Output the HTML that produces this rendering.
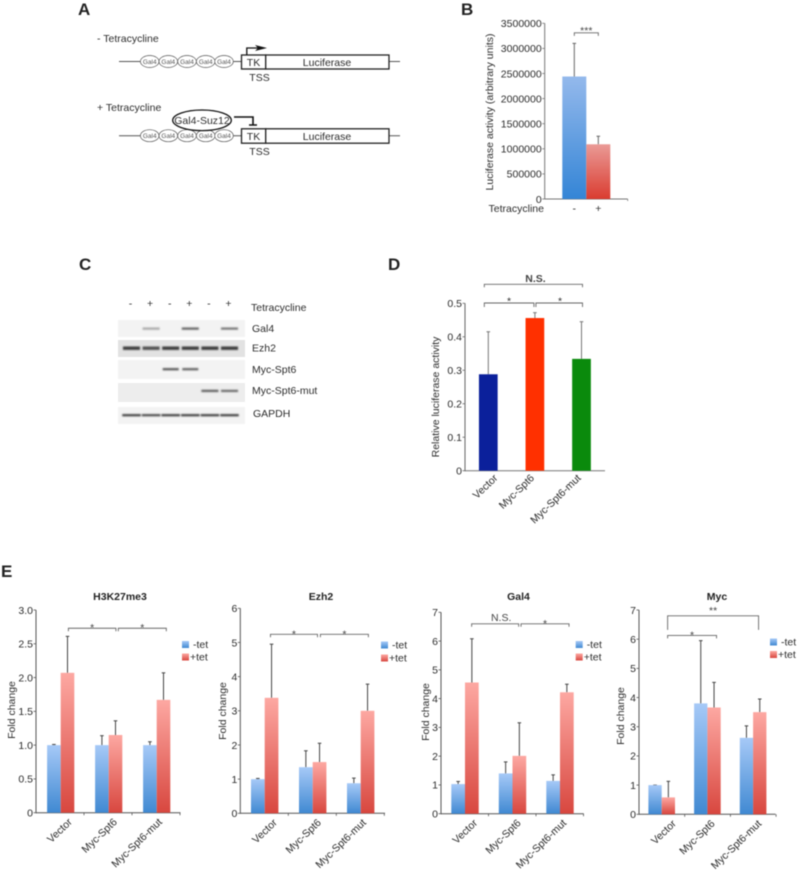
<!DOCTYPE html>
<html lang="en">
<head>
<meta charset="utf-8">
<title>Luciferase reporter and ChIP figure</title>
<style>
html,body{margin:0;padding:0;background:#fff}
#figure{display:block;width:800px;height:871px;filter:blur(0.4px)}
text{font-family:"Liberation Sans",sans-serif;fill:#2c2c2c;font-size:10.5px}
.panel{font-size:17px;font-weight:bold;fill:#222}
.diag{font-size:10.5px;fill:#2c2c2c}
.gal{font-size:6.5px;fill:#555;text-anchor:middle}
.ln{stroke:#555;stroke-width:1;fill:none}
.box{stroke:#222;stroke-width:1.3;fill:#fff}
</style>
</head>
<body>
<svg id="figure" xmlns="http://www.w3.org/2000/svg" width="800" height="871" viewBox="0 0 800 871">
<defs>
<linearGradient id="gBlue" x1="0" y1="0" x2="0" y2="1"><stop offset="0" stop-color="#a6c9f7"/><stop offset="1" stop-color="#4089d2"/></linearGradient>
<linearGradient id="gRed" x1="0" y1="0" x2="0" y2="1"><stop offset="0" stop-color="#fda8a2"/><stop offset="1" stop-color="#d8473f"/></linearGradient>
<linearGradient id="gBlueB" x1="0" y1="0" x2="0" y2="1"><stop offset="0" stop-color="#94b9ec"/><stop offset="1" stop-color="#3485d6"/></linearGradient>
<linearGradient id="gRedB" x1="0" y1="0" x2="0" y2="1"><stop offset="0" stop-color="#ea9a96"/><stop offset="1" stop-color="#da3c30"/></linearGradient>
<filter id="bandBlur" x="-20%" y="-200%" width="140%" height="500%"><feGaussianBlur stdDeviation="0.7"/></filter>
</defs>

<text class="panel" x="78" y="15">A</text>
<text class="panel" x="461" y="15">B</text>
<text class="panel" x="79" y="270">C</text>
<text class="panel" x="388" y="270">D</text>
<text class="panel" x="1" y="577">E</text>

<g>
<text class="diag" x="97" y="42">- Tetracycline</text>
<line class="ln" x1="119" y1="61.5" x2="400" y2="61.5"/>
<g fill="#fff" stroke="#555" stroke-width="0.7">
<ellipse cx="149.7" cy="61.5" rx="9.3" ry="6"/><ellipse cx="168.3" cy="61.5" rx="9.3" ry="6"/><ellipse cx="187" cy="61.5" rx="9.3" ry="6"/><ellipse cx="205.7" cy="61.5" rx="9.3" ry="6"/><ellipse cx="224" cy="61.5" rx="9.3" ry="6"/>
</g>
<text class="gal" x="149.7" y="64">Gal4</text>
<text class="gal" x="168.3" y="64">Gal4</text>
<text class="gal" x="187" y="64">Gal4</text>
<text class="gal" x="205.7" y="64">Gal4</text>
<text class="gal" x="224" y="64">Gal4</text>
<rect class="box" x="241.5" y="55" width="24.2" height="14"/>
<rect class="box" x="265.7" y="55" width="123.3" height="14"/>
<text class="diag" x="253.5" y="66" text-anchor="middle">TK</text>
<text class="diag" x="327" y="66" text-anchor="middle">Luciferase</text>
<text class="diag" x="259.5" y="81" text-anchor="middle">TSS</text>
<path d="M246.8 55V48H258" fill="none" stroke="#111" stroke-width="1.3"/>
<path d="M255 45L267 48L255 51L258 48Z" fill="#111"/>
</g>

<g>
<text class="diag" x="97" y="111">+ Tetracycline</text>
<line class="ln" x1="119" y1="135.7" x2="400" y2="135.7"/>
<g fill="#fff" stroke="#555" stroke-width="0.7">
<ellipse cx="149.7" cy="135.7" rx="9.3" ry="6"/><ellipse cx="168.3" cy="135.7" rx="9.3" ry="6"/><ellipse cx="187" cy="135.7" rx="9.3" ry="6"/><ellipse cx="205.7" cy="135.7" rx="9.3" ry="6"/><ellipse cx="224" cy="135.7" rx="9.3" ry="6"/>
</g>
<text class="gal" x="149.7" y="138.2">Gal4</text>
<text class="gal" x="168.3" y="138.2">Gal4</text>
<text class="gal" x="187" y="138.2">Gal4</text>
<text class="gal" x="205.7" y="138.2">Gal4</text>
<text class="gal" x="224" y="138.2">Gal4</text>
<rect class="box" x="241.5" y="128.8" width="24.2" height="14.4"/>
<rect class="box" x="265.7" y="128.8" width="123.3" height="14.4"/>
<text class="diag" x="253.5" y="140" text-anchor="middle">TK</text>
<text class="diag" x="327" y="140" text-anchor="middle">Luciferase</text>
<text class="diag" x="259.5" y="155" text-anchor="middle">TSS</text>
<ellipse cx="202" cy="120.3" rx="29.3" ry="10.3" fill="#fff" stroke="#111" stroke-width="1.3"/>
<text class="diag" x="202" y="124" text-anchor="middle">Gal4-Suz12</text>
<path d="M234 117H253V125M249 125H257" fill="none" stroke="#111" stroke-width="1.6"/>
</g>

<g id="blot"></g>
<g id="chartB"></g>
<g id="chartD"></g>
<g id="chartE1"></g>
<g id="chartE2"></g>
<g id="chartE3"></g>
<g id="chartE4"></g>
</svg>

<script>
// ---- data ----
const groupLabels = ['Vector', 'Myc-Spt6', 'Myc-Spt6-mut'];

const bCategories = ['-', '+'];
const bValues = [2440000, 1090000];
const bErrorTops = [3100000, 1250000];
const bTicks = ['0', '500000', '1000000', '1500000', '2000000', '2500000', '3000000', '3500000'];

const dValues = [0.288, 0.456, 0.334];
const dErrorTops = [0.415, 0.472, 0.445];
const dTicks = ['0', '0.1', '0.2', '0.3', '0.4', '0.5'];

const h3Minus = [1, 1, 1];
const h3Plus = [2.07, 1.15, 1.67];
const h3MinusTops = [1.01, 1.14, 1.05];
const h3PlusTops = [2.61, 1.36, 2.07];
const h3Ticks = ['0', '0.5', '1.0', '1.5', '2.0', '2.5', '3.0'];

const ezh2Minus = [1, 1.35, 0.88];
const ezh2Plus = [3.38, 1.5, 3.0];
const ezh2MinusTops = [1.02, 1.83, 1.03];
const ezh2PlusTops = [4.95, 2.05, 3.78];
const ezh2Ticks = ['0', '1', '2', '3', '4', '5', '6'];

const gal4Minus = [1.03, 1.4, 1.14];
const gal4Plus = [4.56, 2.01, 4.22];
const gal4MinusTops = [1.12, 1.8, 1.35];
const gal4PlusTops = [6.08, 3.16, 4.5];
const gal4Ticks = ['0', '1', '2', '3', '4', '5', '6', '7'];

const mycMinus = [1, 3.8, 2.62];
const mycPlus = [0.58, 3.66, 3.5];
const mycMinusTops = [1.0, 5.95, 3.03];
const mycPlusTops = [1.13, 4.52, 3.95];
const mycTicks = ['0', '1', '2', '3', '4', '5', '6', '7'];

const blotProteins = ['Gal4', 'Ezh2', 'Myc-Spt6', 'Myc-Spt6-mut', 'GAPDH'];
const blotLanes = ['-', '+', '-', '+', '-', '+'];
const blotGal4 = [0, 0.35, 0, 0.7, 0, 0.6];
const blotEzh2 = [0.85, 0.75, 0.85, 0.85, 0.85, 0.85];
const blotMyc = [0, 0, 0.75, 0.7, 0, 0];
const blotMut = [0, 0, 0, 0, 0.7, 0.65];
const blotGapdh = [0.85, 0.8, 0.85, 0.85, 0.85, 0.85];

// ---- helpers ----
const NS = 'http://www.w3.org/2000/svg';
function mk(tag, attrs, parent, text) {
  const el = document.createElementNS(NS, tag);
  for (const k in attrs) el.setAttribute(k, attrs[k]);
  if (text !== undefined) el.textContent = text;
  parent.appendChild(el);
  return el;
}
function seg(parent, name, x1, y1, x2, y2, color, width) {
  const el = mk('line', {x1: x1, y1: y1, x2: x2, y2: y2, stroke: color, 'stroke-width': width}, parent);
  
  
  return el;
}
function label(parent, name, x, y, str, anchor, extra) {
  const el = mk('text', Object.assign({x: x, y: y, 'text-anchor': anchor}, extra || {}), parent, str);
  
  
  return el;
}
function linearY(y0, yTop, maxVal) {
  return function (v) { return y0 - (v / maxVal) * (y0 - yTop); };
}
function yAxis(g, ax, ticks, y, axisColor) {
  seg(g, 'y-axis', ax, y(0) + 0.5, ax, y(parseFloat(ticks[ticks.length - 1])), axisColor, 1);
  ticks.forEach(function (t) {
    const v = parseFloat(t);
    seg(g, 'y-tick', ax - 2.5, y(v), ax, y(v), axisColor, 0.8);
    label(g, 'y-tick-label', ax - 3, y(v) + 3.8, t, 'end');
  });
}
function bar(g, name, x, w, top, bottom, fill) {
  const r = mk('rect', {x: x, y: top, width: w, height: bottom - top, fill: fill}, g);
  
  
}
function errorBar(g, name, cx, yVal, yTop, color) {
  seg(g, name, cx, yVal, cx, yTop, color, 1);
  seg(g, name + '-cap', cx - 1.8, yTop, cx + 1.8, yTop, color, 1);
}
function bracket(g, name, x1, x2, y, leftDrop, rightDrop) {
  const p = mk('path', {d: 'M' + x1 + ' ' + (y + leftDrop) + 'V' + y + 'H' + x2 + 'V' + (y + rightDrop), fill: 'none', stroke: '#666', 'stroke-width': 0.9}, g);
  
  
}

// ---- grouped chart (panel E) ----
function groupedChart(cfg) {
  const g = document.getElementById(cfg.id);
  const y = linearY(cfg.y0, cfg.yTop, parseFloat(cfg.ticks[cfg.ticks.length - 1]));
  const cx = function (i) { return cfg.first + i * cfg.step; };
  const bw = cfg.bw;
  yAxis(g, cfg.ax, cfg.ticks, y, '#555');
  seg(g, 'x-axis', cfg.ax, cfg.y0, cfg.axEnd, cfg.y0, '#555', 1);
  for (let i = 0; i < 3; i++) {
    seg(g, 'x-tick', cfg.ax + (i + 1) * cfg.step, cfg.y0, cfg.ax + (i + 1) * cfg.step, cfg.y0 + 2.5, '#555', 0.8);
    errorBar(g, 'error-bar-minus-tet', cx(i) - bw / 2, y(cfg.minus[i]), y(cfg.minusTops[i]), '#444');
    errorBar(g, 'error-bar-plus-tet', cx(i) + bw / 2, y(cfg.plus[i]), y(cfg.plusTops[i]), '#444');
    bar(g, 'bar-minus-tet-' + groupLabels[i].toLowerCase(), cx(i) - bw, bw, y(cfg.minus[i]), cfg.y0, 'url(#gBlue)');
    bar(g, 'bar-plus-tet-' + groupLabels[i].toLowerCase(), cx(i), bw, y(cfg.plus[i]), cfg.y0, 'url(#gRed)');
    const lx = cx(i) + cfg.labelShift[i], ly = cfg.y0 + 10;
    label(g, 'x-tick-label', lx, ly, groupLabels[i], 'end', {transform: 'rotate(-44 ' + lx + ' ' + ly + ')', 'font-size': 10.5});
  }
  const yl = label(g, 'y-axis-title', 0, 0, 'Fold change', 'middle');
  yl.setAttribute('transform', 'translate(' + cfg.yTitleX + ' ' + cfg.yTitleY + ') rotate(-90)');
  const ti = label(g, 'chart-title', cfg.titleX, 600, cfg.title, 'middle', {'font-weight': 'bold'});
  ti.style.fill = '#222';
  // legend
  bar(g, 'legend-swatch-minus-tet', cfg.legX, 7, cfg.legY - 3.5, cfg.legY + 3.5, 'url(#gBlue)');
  bar(g, 'legend-swatch-plus-tet', cfg.legX, 7, cfg.legY + cfg.legGap - 3.5, cfg.legY + cfg.legGap + 3.5, 'url(#gRed)');
  label(g, 'legend-label-minus-tet', cfg.legX + 11, cfg.legY + 3.5, '-tet', 'start');
  label(g, 'legend-label-plus-tet', cfg.legX + 8, cfg.legY + cfg.legGap + 3.5, '+tet', 'start');
  cfg.brackets.forEach(function (b) {
    const by = y(b.level);
    bracket(g, 'significance-bracket', cx(b.from), cx(b.to), by, b.dropL, b.dropR);
    const sx = cx((b.from + b.to) / 2) + (b.shift || 0);
    const s = label(g, 'significance-mark', sx, b.mark === 'N.S.' ? by - 3 : by + (b.up || 0), b.mark, 'middle', b.mark === 'N.S.' ? {'font-size': 7.5} : {'font-size': 10});
    s.style.fill = '#444';
  });
}

groupedChart({id: 'chartE1', title: 'H3K27me3', titleX: 120, ticks: h3Ticks,
  minus: h3Minus, plus: h3Plus, minusTops: h3MinusTops, plusTops: h3PlusTops,
  ax: 36, axEnd: 180.5, y0: 812.7, yTop: 610, first: 60.7, step: 48, bw: 13.6,
  labelShift: [12, 9, 6],
  yTitleX: 15, yTitleY: 710, legX: 182, legY: 644.5, legGap: 12.5,
  brackets: [
    {from: 0.16, to: 1.15, level: 2.73, dropL: 3, dropR: 3, mark: '*', up: 3},
    {from: 1.2, to: 2.2, level: 2.73, dropL: 3, dropR: 3, mark: '*', up: 3}
  ]});
groupedChart({id: 'chartE2', title: 'Ezh2', titleX: 321, ticks: ezh2Ticks,
  minus: ezh2Minus, plus: ezh2Plus, minusTops: ezh2MinusTops, plusTops: ezh2PlusTops,
  ax: 240.3, axEnd: 385, y0: 813.3, yTop: 608.3, first: 264.7, step: 48, bw: 13.7,
  labelShift: [13, 9, 6],
  yTitleX: 226, yTitleY: 711, legX: 381, legY: 645, legGap: 13,
  brackets: [
    {from: 0.12, to: 1.1, level: 5.24, dropL: 3, dropR: 3, mark: '*', up: 3},
    {from: 1.16, to: 2.16, level: 5.24, dropL: 3, dropR: 3, mark: '*', up: 3}
  ]});
groupedChart({id: 'chartE3', title: 'Gal4', titleX: 518.5, ticks: gal4Ticks,
  minus: gal4Minus, plus: gal4Plus, minusTops: gal4MinusTops, plusTops: gal4PlusTops,
  ax: 441, axEnd: 583.7, y0: 813.7, yTop: 612.3, first: 465, step: 47.5, bw: 13.7,
  labelShift: [13, 9, 7],
  yTitleX: 429, yTitleY: 712, legX: 575.7, legY: 644.5, legGap: 12.5,
  brackets: [
    {from: 0.14, to: 1.13, level: 6.6, dropL: 3, dropR: 3, mark: 'N.S.', shift: 6},
    {from: 1.18, to: 2.19, level: 6.6, dropL: 3, dropR: 3, mark: '*', up: 3}
  ]});
groupedChart({id: 'chartE4', title: 'Myc', titleX: 717, ticks: mycTicks,
  minus: mycMinus, plus: mycPlus, minusTops: mycMinusTops, plusTops: mycPlusTops,
  ax: 639, axEnd: 775.5, y0: 814.3, yTop: 610, first: 661.7, step: 45.7, bw: 13.3,
  labelShift: [15, 8, 9],
  yTitleX: 624, yTitleY: 716, legX: 770, legY: 642, legGap: 12.5,
  brackets: [
    {from: 0.13, to: 2.12, level: 6.8, dropL: 14, dropR: 14, mark: '**', up: -2},
    {from: 0.13, to: 1.2, level: 6.13, dropL: 3, dropR: 3, mark: '*', up: 3}
  ]});

// ---- panel B ----
(function () {
  const g = document.getElementById('chartB');
  const y0 = 199;
  const y = linearY(y0, 23.3, 3500000);
  const ax = 544.7, bw = 24;
  const bx = function (i) { return 562.3 + i * bw; };
  yAxis(g, ax, bTicks, y, '#777');
  seg(g, 'x-axis', ax, y0, 627.7, y0, '#777', 1);
  seg(g, 'x-axis-end-tick', 627.7, y0, 627.7, y0 + 2, '#777', 0.8);
  bValues.forEach(function (v, i) {
    errorBar(g, 'error-bar', bx(i) + bw / 2, y(v), y(bErrorTops[i]), '#666');
    bar(g, 'bar-tet-' + (i === 0 ? 'minus' : 'plus'), bx(i), bw, y(v), y0, i === 0 ? 'url(#gBlueB)' : 'url(#gRedB)');
    label(g, 'x-tick-label', bx(i) + bw / 2, 212, bCategories[i], 'middle');
  });
  label(g, 'x-axis-title', 544, 212, 'Tetracycline', 'end');
  const t = label(g, 'y-axis-title', 0, 0, 'Luciferase activity (arbitrary units)', 'middle');
  t.setAttribute('transform', 'translate(493 112) rotate(-90)');
  bracket(g, 'significance-bracket', bx(0) + bw / 2, bx(1) + bw / 2, y(3310000), 3, 3);
  const s = label(g, 'significance-mark', bx(1), y(3310000) + 1, '***', 'middle', {'font-size': 10});
  s.style.fill = '#444';
})();

// ---- panel D ----
(function () {
  const g = document.getElementById('chartD');
  const y0 = 470.7;
  const y = linearY(y0, 303.3, 0.5);
  const ax = 465, bw = 18.7;
  const colors = ['#0b209b', '#ff3000', '#0a8a0c'];
  const labelShift = [10, 0, 0];
  const cx = function (i) { return 488.3 + i * 46.6; };
  yAxis(g, ax, dTicks, y, '#666');
  seg(g, 'x-axis', ax, y0, 605, y0, '#777', 1);
  dValues.forEach(function (v, i) {
    errorBar(g, 'error-bar', cx(i), y(v), y(dErrorTops[i]), '#777');
    bar(g, 'bar-' + groupLabels[i].toLowerCase(), cx(i) - bw / 2, bw, y(v), y0, colors[i]);
    const lx = cx(i) + labelShift[i], ly = y0 + 8;
    label(g, 'x-tick-label', lx, ly, groupLabels[i], 'end', {transform: 'rotate(-44 ' + lx + ' ' + ly + ')'});
  });
  const t = label(g, 'y-axis-title', 0, 0, 'Relative luciferase activity', 'middle');
  t.setAttribute('transform', 'translate(439 397) rotate(-90)');
  bracket(g, 'significance-bracket', cx(0) - 4, cx(2) + 1, 284.3, 3, 3);
  bracket(g, 'significance-bracket', cx(0) - 4, cx(1) - 1, 303, 4, 4);
  bracket(g, 'significance-bracket', cx(1) + 1, cx(2) + 1, 303, 4, 4);
  const n = label(g, 'significance-mark', 535.5, 282, 'N.S.', 'middle', {'font-size': 7.5, 'font-weight': 'bold'});
  n.style.fill = '#444';
  label(g, 'significance-mark', 509, 304.5, '*', 'middle', {'font-size': 10});
  label(g, 'significance-mark', 560, 304.5, '*', 'middle', {'font-size': 10});
})();

// ---- panel C ----
(function () {
  const g = document.getElementById('blot');
  const rows = [blotGal4, blotEzh2, blotMyc, blotMut, blotGapdh];
  const rowTops = [320, 340, 360, 383, 407];
  const rowHeights = [17, 17, 19, 19, 17];
  const bandOffsets = [8.7, 7.7, 9.3, 8, 8.3];
  const labelOffsets = [12, 11.5, 13, 11, 10];
  const labelX = [252, 252, 252, 252, 253];
  const bandWidths = [17, 17, 16, 17, 18.5];
  const rowShade = ['#f3f3f3', '#e2e2e2', '#f3f3f3', '#ededed', '#f3f3f3'];
  const laneX = function (i) { return 131.5 + i * 19.6; };
  rows.forEach(function (row, r) {
    bar(g, 'blot-strip-' + blotProteins[r].toLowerCase(), 118, 127, rowTops[r], rowTops[r] + rowHeights[r], rowShade[r]);
    const bandGroup = mk('g', {filter: 'url(#bandBlur)'}, g);
    row.forEach(function (v, i) {
      if (v <= 0) return;
      const bw = bandWidths[r];
      const b = mk('rect', {x: laneX(i) - bw / 2, y: rowTops[r] + bandOffsets[r] - 1.2, width: bw, height: r === 1 ? 3.4 : 2.2, fill: '#222', 'fill-opacity': v}, bandGroup);
      
      
    });
    label(g, 'blot-row-label', labelX[r], rowTops[r] + labelOffsets[r], blotProteins[r], 'start');
  });
  blotLanes.forEach(function (s, i) {
    label(g, 'lane-sign', laneX(i) - 1, 307, s, 'middle');
  });
  label(g, 'tetracycline-label', 251, 311, 'Tetracycline', 'start');
})();
</script>
</body>
</html>
